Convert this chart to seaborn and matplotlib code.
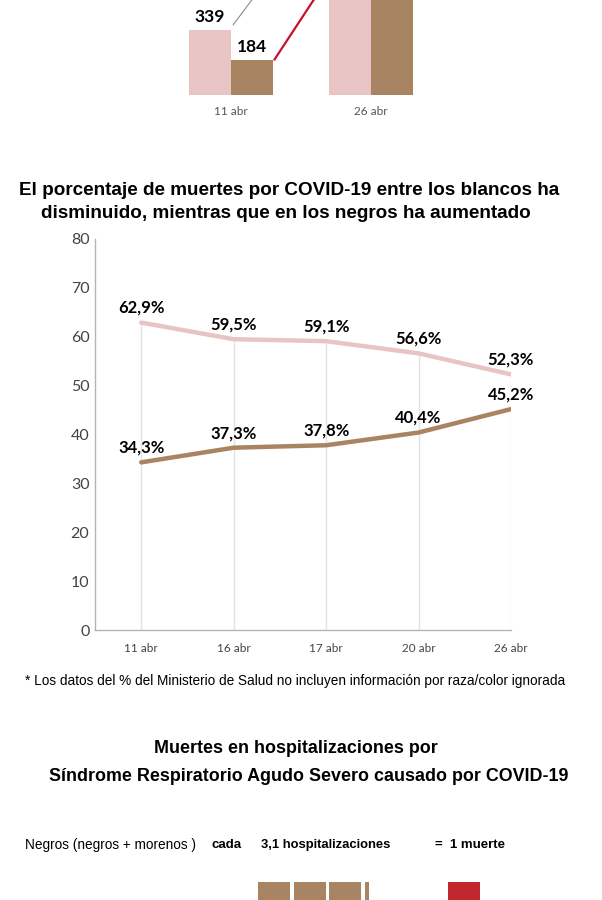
import numpy as np
import pandas as pd
import matplotlib
matplotlib.use("Agg")
import matplotlib.pyplot as plt
import seaborn as sns

# ---------------- data ----------------
# top bar chart (only its lower part is visible)
bar_fechas = ["11 abr", "26 abr"]
bar_blancos = [339, 1030]
bar_negros = [184, 950]

# line chart: % of COVID-19 deaths
fechas = ["11 abr", "16 abr", "17 abr", "20 abr", "26 abr"]
pct_blancos = [62.9, 59.5, 59.1, 56.6, 52.3]
pct_negros = [34.3, 37.3, 37.8, 40.4, 45.2]
y_ticks = [0, 10, 20, 30, 40, 50, 60, 70, 80]

# bottom pictogram
grupo = "Negros (negros + morenos )"
hosp_por_muerte = 3.1
muertes = 1

PINK = "#e8c4c5"
BROWN = "#a98462"
RED = "#c1272d"

sns.set_theme(style="white")
plt.rcParams["font.family"] = ["Lato", "DejaVu Sans"]
plt.rcParams["text.color"] = "black"

W, H = 602, 900
fig = plt.figure(figsize=(W / 100, H / 100), dpi=100)


def ax_px(left, top, right, bottom):
    return fig.add_axes([left / W, 1 - bottom / H, (right - left) / W, (bottom - top) / H])


def fy(y):
    return 1 - y / H


ARIAL = ["Liberation Sans", "DejaVu Sans"]

# ---------------- top bar chart ----------------
axb = ax_px(0, 0, W, 95)
df_bar = pd.DataFrame({
    "fecha": bar_fechas * 2,
    "muertes": bar_blancos + bar_negros,
    "raza": ["Blancos"] * len(bar_fechas) + ["Negros"] * len(bar_fechas),
})
sns.barplot(data=df_bar, x="fecha", y="muertes", hue="raza", palette=[PINK, BROWN],
            width=0.6, saturation=1, legend=False, errorbar=None, ax=axb, linewidth=0)
unit = 140.0
axb.set_xlim(-231 / unit, (W - 231) / unit)
axb.set_ylim(0, 95 / 0.192)
for s in axb.spines.values():
    s.set_visible(False)
axb.set_yticks([])
axb.set_xlabel("")
axb.set_ylabel("")
axb.tick_params(axis="x", length=0, pad=8, labelsize=8.5, labelcolor="#555555")

bars = sorted(axb.patches, key=lambda p: p.get_x())
for p in bars:
    axb.annotate(f"{int(p.get_height())}", (p.get_x() + p.get_width() / 2, p.get_height()),
                 xytext=(0, 9), textcoords="offset points", ha="center", va="center",
                 fontsize=12.5, fontweight="bold", color="black")
p0, b0, p1, b1 = bars
axb.plot([p0.get_x() + p0.get_width() + 0.015, p1.get_x()],
         [p0.get_height() + 26, p1.get_height()], color="#8a8a8a", lw=0.8, clip_on=True)
axb.plot([b0.get_x() + b0.get_width() + 0.01, b1.get_x()],
         [b0.get_height(), b1.get_height()], color="#c8102e", lw=1.6, clip_on=True)

# ---------------- titles ----------------
fig.text(289 / W, fy(195), "El porcentaje de muertes por COVID-19 entre los blancos ha",
         ha="center", va="baseline", fontsize=13.6, fontweight="bold", family=ARIAL,
         color="black")
fig.text(286 / W, fy(218), "disminuido, mientras que en los negros ha aumentado",
         ha="center", va="baseline", fontsize=13.6, fontweight="bold", family=ARIAL,
         color="black")

# ---------------- line chart ----------------
axl = ax_px(95, 239, 511, 630)
pos = np.arange(len(fechas))
df_line = pd.DataFrame({
    "pos": np.concatenate([pos, pos]),
    "pct": pct_blancos + pct_negros,
    "raza": ["Blancos"] * len(fechas) + ["Negros"] * len(fechas),
})
axl.vlines(pos, 0, pct_blancos, color="#e3e3e3", lw=1, zorder=1)
sns.lineplot(data=df_line, x="pos", y="pct", hue="raza", palette=[PINK, BROWN],
             linewidth=3.2, legend=False, ax=axl, zorder=3)
axl.set_xlim(-0.5, len(fechas) - 1)
axl.set_ylim(0, 80)
axl.set_xticks(pos, fechas)
axl.set_yticks(y_ticks)
axl.set_xlabel("")
axl.set_ylabel("")
for side in ["top", "right"]:
    axl.spines[side].set_visible(False)
for side in ["left", "bottom"]:
    axl.spines[side].set_color("#b5b5b5")
    axl.spines[side].set_linewidth(1)
axl.tick_params(axis="x", length=0, pad=9, labelsize=8.5, labelcolor="#444444")
axl.tick_params(axis="y", direction="in", length=6, width=1, color="#b5b5b5", pad=4,
                labelsize=11.5, labelcolor="#444444")
for xs, vals in [(pos, pct_blancos), (pos, pct_negros)]:
    for x, v in zip(xs, vals):
        axl.annotate(f"{v:.1f}%".replace(".", ","), (x, v), xytext=(0, 10.5),
                     textcoords="offset points", ha="center", va="center",
                     fontsize=12, fontweight="bold", color="black", zorder=5)

fig.text(25 / W, fy(681),
         "* Los datos del % del Ministerio de Salud no incluyen información por raza/color ignorada",
         ha="left", va="center", fontsize=9.8, family=ARIAL, color="black")

# ---------------- second block ----------------
fig.text(296 / W, fy(753), "Muertes en hospitalizaciones por",
         ha="center", va="baseline", fontsize=12.9, fontweight="bold", family=ARIAL,
         color="black")
fig.text(309 / W, fy(781), "Síndrome Respiratorio Agudo Severo causado por COVID-19",
         ha="center", va="baseline", fontsize=12.9, fontweight="bold", family=ARIAL,
         color="black")

fig.text(25 / W, fy(845), grupo, ha="left", va="center", fontsize=9.8, family=ARIAL,
         color="black")
fig.text(212 / W, fy(845), "cada", ha="left", va="center", fontsize=9.5,
         fontweight="bold", family=ARIAL, color="black")
fig.text(261 / W, fy(845), f"{hosp_por_muerte:.1f}".replace(".", ",") + " hospitalizaciones",
         ha="left", va="center", fontsize=9.4, fontweight="bold", family=ARIAL, color="black")
fig.text(435 / W, fy(845), f"=  {muertes} muerte", ha="left", va="center", fontsize=9.5,
         fontweight="bold", family=ARIAL, color="black")

# pictogram squares
axs = ax_px(0, 882, W, 914)
pitch = 35.67
axs.set_xlim(-258 / pitch, (W - 258) / pitch)
axs.set_ylim(0, 32 / pitch)
n_full = int(np.floor(hosp_por_muerte))
frac = hosp_por_muerte - n_full
widths = [0.9] * n_full + ([frac] if frac > 1e-9 else [])
axs.bar(np.arange(len(widths)), 0.9, width=widths, align="edge", color=BROWN, linewidth=0)
axs.bar([5.33], 0.9 * muertes, width=0.9, align="edge", color=RED, linewidth=0)
axs.axis("off")

fig.savefig("out.png", dpi=100)
